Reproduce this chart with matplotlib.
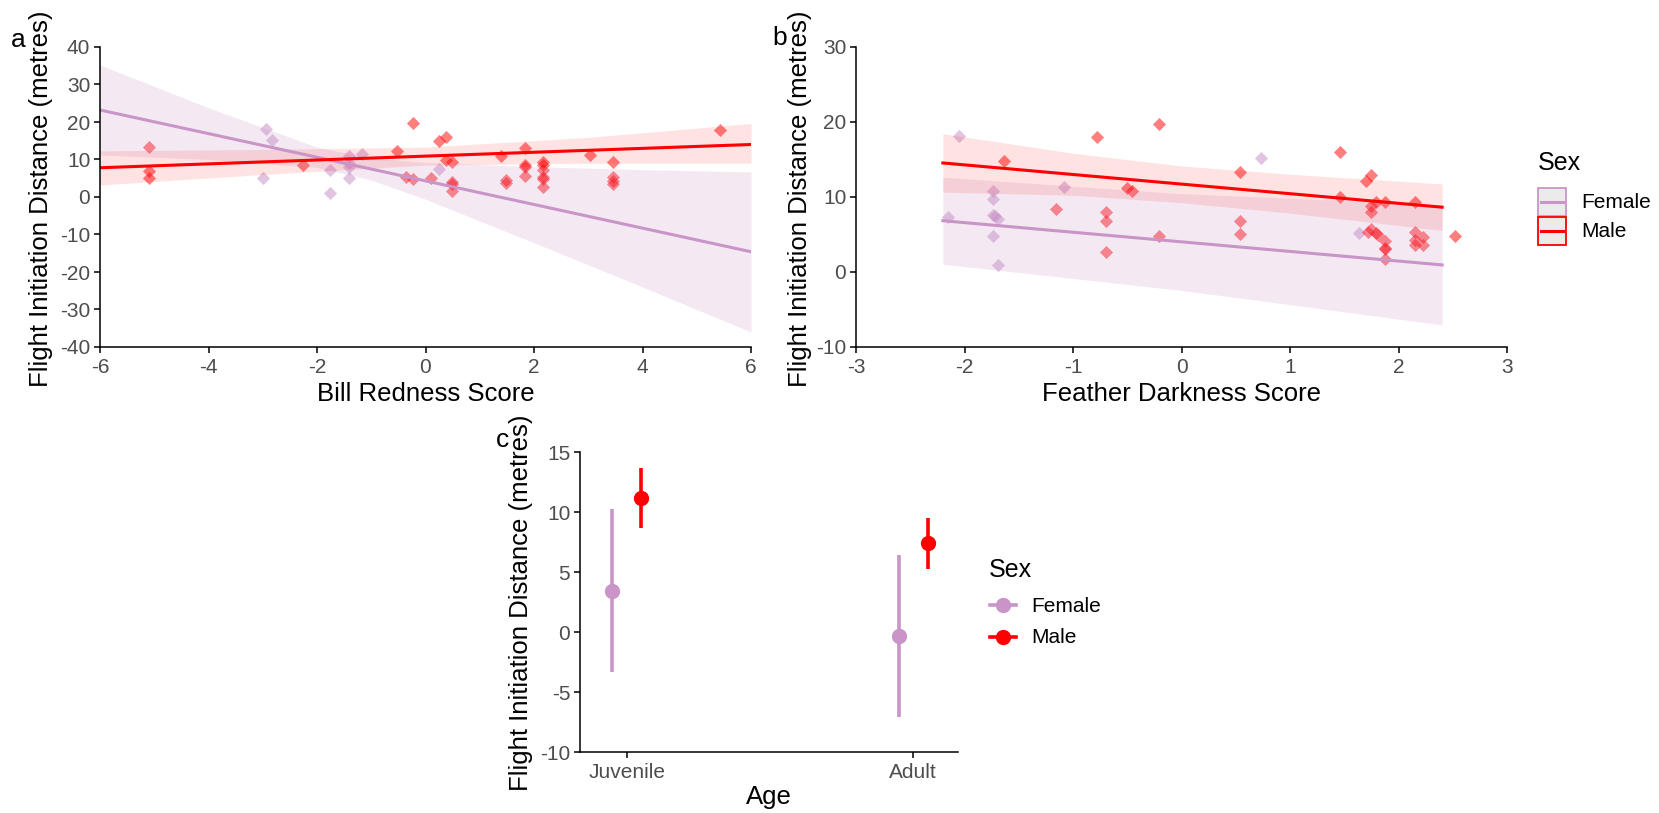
import numpy as np
import matplotlib.pyplot as plt
from matplotlib.lines import Line2D
from matplotlib.patches import Rectangle

plt.rcParams['font.family'] = ['Liberation Sans', 'DejaVu Sans']
plt.rcParams['axes.unicode_minus'] = False

# ---- data ----
# panel a: bill redness
bill_f_x = [-2.94, -2.83, -2.99, -1.76, -1.76, -1.41, -1.41, -1.41, -1.41, -1.17, 0.24]
bill_f_y = [18.1, 15.2, 5.1, 7.1, 1.0, 10.9, 9.0, 7.9, 5.0, 11.5, 7.4]
bill_m_x = [-5.09, -5.09, -5.09, -2.25, -0.52, -0.36, -0.23, -0.23, 0.11, 0.24, 0.38, 0.38,
            0.49, 0.49, 0.49, 0.49, 1.40, 1.48, 1.48, 1.84, 1.84, 1.84, 1.84, 2.16, 2.16,
            2.16, 2.16, 2.16, 2.16, 3.04, 3.46, 3.46, 3.46, 3.46, 5.42]
bill_m_y = [13.4, 6.8, 5.1, 8.4, 12.3, 5.2, 19.7, 4.7, 5.0, 15.0, 16.1, 9.9,
            9.2, 4.1, 3.5, 1.5, 10.9, 4.5, 3.7, 13.1, 8.5, 7.9, 5.7, 9.4, 8.5,
            7.2, 5.2, 4.9, 2.6, 11.3, 9.3, 5.4, 4.3, 3.4, 17.9]
bill_grid_f = [-6, -4, -2, -1, 0, 2, 4, 6]
bill_fit_f = [23.2, 16.9, 10.6, 7.45, 4.3, -2.0, -8.3, -14.6]
bill_lo_f = [11.2, 10.0, 7.9, 4.5, -0.6, -12.2, -24.0, -36.0]
bill_hi_f = [35.2, 23.8, 13.3, 10.4, 9.2, 8.1, 7.3, 6.7]
bill_grid_m = [-6, -3, 0, 3, 6]
bill_fit_m = [7.8, 9.35, 10.9, 12.45, 14.0]
bill_lo_m = [3.2, 6.0, 8.5, 9.0, 9.0]
bill_hi_m = [12.3, 12.7, 13.3, 15.9, 19.6]

# panel b: feather darkness
fea_f_x = [-2.05, -2.15, -1.74, -1.74, -1.74, -1.72, -1.69, -1.74, -1.69, -1.08, 0.73, 1.63]
fea_f_y = [18.1, 7.25, 10.8, 9.7, 7.6, 7.4, 7.0, 4.7, 0.9, 11.3, 15.2, 5.1]
fea_m_x = [-1.64, -1.16, -0.78, -0.70, -0.70, -0.70, -0.50, -0.46, -0.21, -0.21, 0.54, 0.54,
           0.54, 1.46, 1.46, 1.70, 1.74, 1.79, 1.87, 1.74, 1.74, 1.74, 1.72, 1.79, 1.81,
           1.87, 1.87, 1.87, 1.87, 2.15, 2.15, 2.15, 2.15, 2.22, 2.22, 2.52]
fea_m_y = [14.8, 8.4, 17.9, 8.0, 6.8, 2.6, 11.2, 10.7, 19.7, 4.7, 13.3, 6.8,
           5.0, 16.0, 9.9, 12.1, 12.9, 9.3, 9.3, 8.7, 7.9, 5.7, 5.3, 5.1, 4.9,
           4.1, 3.2, 3.0, 1.65, 9.25, 5.3, 4.2, 3.5, 4.6, 3.5, 4.75]
fea_grid = [-2.2, -1, 0, 1, 2.4]
fea_fit_f = [6.8, 5.26, 3.98, 2.7, 0.9]
fea_lo_f = [1.0, -0.9, -2.5, -4.4, -7.1]
fea_hi_f = [12.6, 11.4, 10.4, 9.8, 8.9]
fea_fit_m = [14.5, 12.96, 11.68, 10.4, 8.6]
fea_lo_m = [10.6, 10.2, 9.2, 7.8, 5.5]
fea_hi_m = [18.4, 15.8, 14.1, 13.0, 11.7]

# panel c: age
ages = ['Juvenile', 'Adult']
age_f_mean = [3.44, -0.31]
age_f_lo = [-3.28, -7.03]
age_f_hi = [10.25, 6.44]
age_m_mean = [11.17, 7.42]
age_m_lo = [8.72, 5.25]
age_m_hi = [13.67, 9.55]

FEM = '#C994C7'
MAL = '#FF0000'
GREY = '#4D4D4D'
YLAB = 'Flight Initiation Distance (metres)'

W, H = 1659, 813
fig = plt.figure(figsize=(W / 100, H / 100), dpi=100)


def box(l, t, r, b):
    return [l / W, 1 - b / H, (r - l) / W, (b - t) / H]


def ftext(x, y, s, **kw):
    fig.text(x / W, 1 - y / H, s, **kw)


def style(ax):
    for s in ['top', 'right']:
        ax.spines[s].set_visible(False)
    for s in ['left', 'bottom']:
        ax.spines[s].set_linewidth(1.1)
    ax.tick_params(length=4, width=1.1, labelsize=15, labelcolor=GREY, pad=3)
    ax.tick_params(axis='x', pad=4)


def trend(ax, gx, fit, lo, hi, col, alpha):
    ax.fill_between(gx, lo, hi, color=col, alpha=alpha, linewidth=0)
    ax.plot(gx, fit, color=col, lw=2.2)


# panel a
ax1 = fig.add_axes(box(100, 47, 751, 347))
ax1.scatter(bill_f_x, bill_f_y, marker='D', s=45, color=FEM, alpha=0.55, linewidths=0)
ax1.scatter(bill_m_x, bill_m_y, marker='D', s=45, color=MAL, alpha=0.5, linewidths=0)
trend(ax1, bill_grid_f, bill_fit_f, bill_lo_f, bill_hi_f, FEM, 0.2)
trend(ax1, bill_grid_m, bill_fit_m, bill_lo_m, bill_hi_m, MAL, 0.11)
ax1.set_xlim(-6, 6)
ax1.set_ylim(-40, 40)
ax1.set_xticks(np.arange(-6, 7, 2))
ax1.set_yticks(np.arange(-40, 41, 10))
style(ax1)

# panel b
ax2 = fig.add_axes(box(856, 46.7, 1507.3, 346.7))
ax2.scatter(fea_f_x, fea_f_y, marker='D', s=45, color=FEM, alpha=0.55, linewidths=0)
ax2.scatter(fea_m_x, fea_m_y, marker='D', s=45, color=MAL, alpha=0.5, linewidths=0)
trend(ax2, fea_grid, fea_fit_f, fea_lo_f, fea_hi_f, FEM, 0.2)
trend(ax2, fea_grid, fea_fit_m, fea_lo_m, fea_hi_m, MAL, 0.11)
ax2.set_xlim(-3, 3)
ax2.set_ylim(-10, 30)
ax2.set_xticks(np.arange(-3, 4, 1))
ax2.set_yticks(np.arange(-10, 31, 10))
style(ax2)

# panel c
ax3 = fig.add_axes(box(580, 452.3, 958.3, 752.3))
pos = np.arange(1, len(ages) + 1)
for off, m, lo, hi, col in [(-0.05, age_f_mean, age_f_lo, age_f_hi, FEM),
                            (0.05, age_m_mean, age_m_lo, age_m_hi, MAL)]:
    ax3.vlines(pos + off, lo, hi, color=col, lw=2.6)
    ax3.plot(pos + off, m, 'o', color=col, ms=10)
ax3.set_xlim(0.837, 2.157)
ax3.set_ylim(-10, 15)
ax3.set_xticks(pos)
ax3.set_xticklabels(ages)
ax3.set_yticks(np.arange(-10, 16, 5))
style(ax3)

# axis titles
tk = dict(fontsize=18.5, color='black', ha='center', va='center')
ftext(425.5, 394, 'Bill Redness Score', **tk)
ftext(1181.7, 394, 'Feather Darkness Score', **tk)
ftext(769, 797, 'Age', **tk)
ftext(41, 199, YLAB, rotation=90, **tk)
ftext(800, 199, YLAB, rotation=90, **tk)
ftext(521, 603, YLAB, rotation=90, **tk)

# panel letters
ftext(18, 40, 'a', fontsize=19, ha='center', va='center')
ftext(780, 38, 'b', fontsize=19, ha='center', va='center')
ftext(503, 440, 'c', fontsize=19, ha='center', va='center')

# legend for a/b
ftext(1538, 163, 'Sex', fontsize=18, ha='left', va='center')
for i, (lab, col) in enumerate([('Female', FEM), ('Male', MAL)]):
    top = 187.7 + i * 28.8
    fig.add_artist(Rectangle((1538 / W, 1 - (top + 28) / H), 28 / W, 28 / H,
                             facecolor='#EBEBEB', edgecolor=col, lw=1.3,
                             transform=fig.transFigure))
    yc = 1 - (top + 14) / H
    fig.add_artist(Line2D([1541 / W, 1563 / W], [yc, yc], color=col, lw=2.2,
                          transform=fig.transFigure))
    ftext(1581.7, top + 15, lab, fontsize=15, ha='left', va='center')

# legend for c
ftext(989.3, 570, 'Sex', fontsize=18, ha='left', va='center')
for i, (lab, col) in enumerate([('Female', FEM), ('Male', MAL)]):
    yp = 605 + i * 31.7
    yc = 1 - yp / H
    fig.add_artist(Line2D([990 / W, 1015.7 / W], [yc, yc], color=col, lw=2.6,
                          transform=fig.transFigure))
    fig.add_artist(Line2D([1002.8 / W], [yc], marker='o', ms=10, color=col,
                          transform=fig.transFigure))
    ftext(1031.7, yp + 1, lab, fontsize=15, ha='left', va='center')

fig.savefig('out.png', dpi=100)
